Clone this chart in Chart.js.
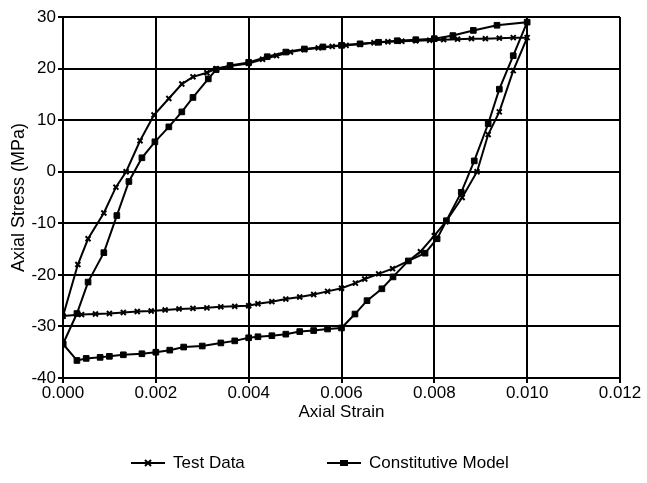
<!DOCTYPE html>
<html>
<head>
<meta charset="utf-8">
<script src="https://cdn.jsdelivr.net/npm/chart.js@4/dist/chart.umd.min.js"></script>
<style>
  html, body { margin: 0; padding: 0; background: #fff; }
  canvas { display: block; }
</style>
</head>
<body>
<canvas id="chart" width="647" height="483"></canvas>
<script>
// Test data loop: up the left branch, along the top, down the right, back along the bottom
const testStrain = [0.0000, 0.00032, 0.00054, 0.00088, 0.00114, 0.00136, 0.00166, 0.00196, 0.00228, 0.00256, 0.0028, 0.0031, 0.0033,
    0.0036, 0.0040, 0.0043, 0.0046, 0.0049, 0.0052, 0.0055, 0.0058, 0.0061, 0.0064, 0.0067, 0.0070, 0.0073, 0.0076, 0.0079, 0.0082, 0.0085, 0.0088, 0.0091, 0.0094, 0.0097, 0.0100,
    0.0097, 0.0094, 0.00916, 0.00892, 0.0086, 0.00825, 0.0080, 0.0077, 0.00744, 0.0071, 0.0068, 0.0065, 0.0063,
    0.0060, 0.0057, 0.0054, 0.0051, 0.0048, 0.0045, 0.0042, 0.0040, 0.0037, 0.0034, 0.0031, 0.0028, 0.0025, 0.0022, 0.0019, 0.0016, 0.0013, 0.0010, 0.0007, 0.0004, 0.0000]
const testStress = [-28, -18, -13, -8, -3, 0, 6, 11, 14.2, 17, 18.4, 19.2, 20,
    20.5, 21, 21.8, 22.5, 23.2, 23.7, 24, 24.3, 24.5, 24.7, 25, 25.2, 25.3, 25.4, 25.5, 25.6, 25.7, 25.8, 25.8, 25.9, 26, 26,
    19.6, 11.6, 7.2, 0, -5, -9.7, -12.4, -15.5, -17.3, -18.8, -19.8, -20.8, -21.6,
    -22.6, -23.2, -23.8, -24.3, -24.7, -25.2, -25.6, -26, -26.1, -26.2, -26.4, -26.5, -26.6, -26.8, -27, -27.1, -27.3, -27.5, -27.6, -27.7, -28]

// Constitutive model loop
const modelStrain = [0.0000, 0.0003, 0.00054, 0.00088, 0.00116, 0.00142, 0.0017, 0.00198, 0.00228, 0.00256, 0.0028, 0.00313, 0.0033,
    0.0036, 0.0040, 0.0044, 0.0048, 0.0052, 0.0056, 0.0060, 0.0064, 0.0068, 0.0072, 0.0076, 0.0080, 0.0084, 0.00884, 0.00935, 0.0100,
    0.0097, 0.0094, 0.00916, 0.00886, 0.00858, 0.00826, 0.00806, 0.0078, 0.00744, 0.00711, 0.00687, 0.00655, 0.00629, 0.0060,
    0.0057, 0.0054, 0.0051, 0.0048, 0.0045, 0.0042, 0.0040, 0.0037, 0.0034, 0.0030, 0.0026, 0.0023, 0.0020, 0.0017, 0.0013, 0.0010, 0.0008, 0.0005, 0.0003, 0.0000]
const modelStress = [-33.4, -27.5, -21.4, -15.7, -8.5, -1.9, 2.7, 5.8, 8.7, 11.6, 14.4, 18, 19.8,
    20.6, 21.2, 22.3, 23.2, 23.8, 24.2, 24.5, 24.8, 25.1, 25.4, 25.6, 25.8, 26.4, 27.4, 28.4, 29,
    22.5, 16, 9.3, 2.1, -4, -9.5, -13, -15.8, -17.3, -20.4, -22.7, -25, -27.6, -30.3,
    -30.5, -30.8, -31, -31.5, -31.8, -32, -32.2, -32.8, -33.2, -33.8, -34, -34.6, -35, -35.3, -35.5, -35.8, -36, -36.2, -36.6, -33.4]

const seriesNames = ['Test Data', 'Constitutive Model']
const markerStyles = ['crossRot', 'rect']

const toPoints = (xs, ys) => xs.map((x, i) => ({ x: x, y: ys[i] }))

const FONT = '"Liberation Sans", Arial, Helvetica, sans-serif'
Chart.defaults.font.family = FONT
Chart.defaults.font.size = 17
Chart.defaults.color = '#000'

// legend drawn below the plot, sample line with a marker in the middle
const bottomLegend = {
    id: 'bottomLegend',
    afterDraw(chart) {
        const ctx = chart.ctx
        const y = 463
        const starts = [131, 327]
        chart.data.datasets.forEach((ds, i) => {
            const x0 = starts[i]
            ctx.save()
            ctx.strokeStyle = '#000'
            ctx.fillStyle = '#000'
            ctx.lineWidth = 2
            ctx.beginPath()
            ctx.moveTo(x0, y)
            ctx.lineTo(x0 + 34, y)
            ctx.stroke()
            const cx = x0 + 17
            if (ds.pointStyle === 'rect') {
                ctx.fillRect(cx - 4, y - 3, 8, 6)
            } else {
                ctx.beginPath()
                ctx.moveTo(cx - 3, y - 3); ctx.lineTo(cx + 3, y + 3)
                ctx.moveTo(cx - 3, y + 3); ctx.lineTo(cx + 3, y - 3)
                ctx.stroke()
            }
            ctx.font = '17px ' + FONT
            ctx.textBaseline = 'middle'
            ctx.textAlign = 'left'
            ctx.fillText(ds.label, x0 + 42, y)
            ctx.restore()
        })
    }
}

const ctx = document.getElementById('chart').getContext('2d')
const chart = new Chart(ctx, {
    type: 'scatter',
    data: {
        datasets: [
            {
                label: seriesNames[0],
                data: toPoints(testStrain, testStress),
                showLine: true,
                borderColor: '#000',
                backgroundColor: '#000',
                borderWidth: 2,
                pointStyle: markerStyles[0],
                pointRadius: 3.5,
                pointBorderWidth: 2,
                tension: 0
            },
            {
                label: seriesNames[1],
                data: toPoints(modelStrain, modelStress),
                showLine: true,
                borderColor: '#000',
                backgroundColor: '#000',
                borderWidth: 2,
                pointStyle: markerStyles[1],
                pointRadius: 4,
                pointBorderWidth: 1,
                tension: 0
            }
        ]
    },
    options: {
        responsive: false,
        animation: false,
        layout: { padding: { left: 8, top: 17, right: 27, bottom: 60 } },
        plugins: {
            legend: { display: false },
            tooltip: { enabled: false }
        },
        scales: {
            x: {
                type: 'linear',
                min: 0,
                max: 0.012,
                afterFit: s => { s.height = 45 },
                ticks: {
                    stepSize: 0.002,
                    padding: 0,
                    maxRotation: 0,
                    callback: v => v.toFixed(3)
                },
                grid: { color: '#000', lineWidth: 2, tickLength: 5 },
                border: { color: '#000', width: 2 },
                title: { display: true, text: 'Axial Strain', padding: { top: -7, bottom: 0 } }
            },
            y: {
                min: -40,
                max: 30,
                afterFit: s => { s.width = 55 },
                ticks: { stepSize: 10, padding: 2 },
                grid: { color: '#000', lineWidth: 2, tickLength: 5 },
                border: { color: '#000', width: 2 },
                title: { display: true, text: 'Axial Stress (MPa)', font: { size: 18 }, padding: { top: 0, bottom: 0 } }
            }
        }
    },
    plugins: [bottomLegend]
})
</script>
</body>
</html>
